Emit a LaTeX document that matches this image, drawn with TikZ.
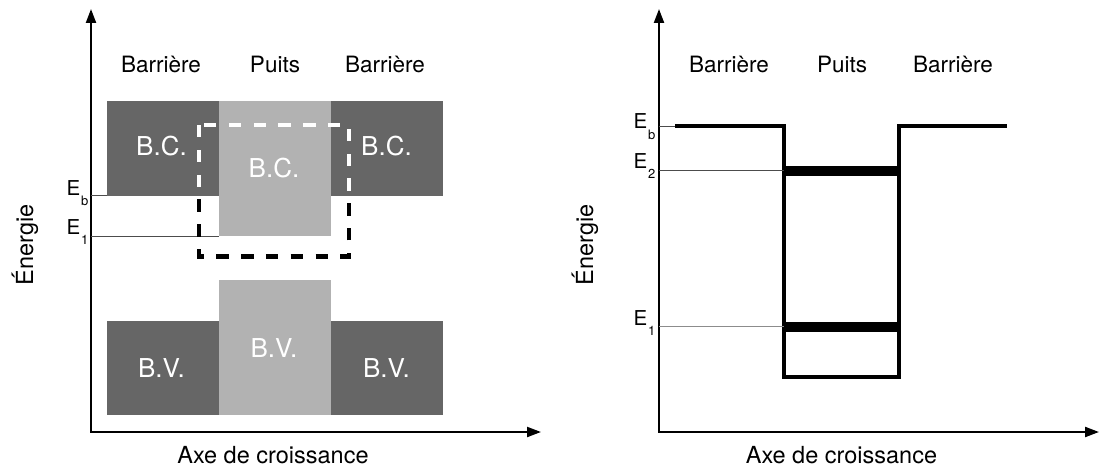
\documentclass[tikz,border=0pt]{standalone}
\usepackage{fontspec}
\setmainfont{TeX Gyre Heros}
\usetikzlibrary{arrows.meta}
\definecolor{dk}{HTML}{666666}
\definecolor{lt}{HTML}{B2B2B2}
\newcommand{\esub}[1]{\kern0.8pt\raisebox{-10pt}{\fontsize{13}{13}\selectfont #1}}
\begin{document}
\begin{tikzpicture}[x=1pt,y=-1pt,
  axis/.style={line width=2.2pt, line join=miter, {Triangle[length=14pt,width=10pt]}-{Triangle[length=14pt,width=10pt]}},
  lbl/.style={inner sep=0, font=\fontsize{22.5}{24}\selectfont, anchor=base},
  axlbl/.style={inner sep=0, font=\fontsize{23.5}{24}\selectfont, anchor=base},
  band/.style={inner sep=0, font=\fontsize{26}{27}\selectfont, text=white, anchor=base},
  elbl/.style={inner sep=0, font=\fontsize{20.5}{21}\selectfont, anchor=base east},
  thinline/.style={line width=0.9pt, draw=black!70},
  dbox/.style={line width=4.5pt, dash pattern=on 12.5pt off 12.3pt},
  profile/.style={line width=4.3pt, line join=miter},
  level/.style={fill=black}]
\useasboundingbox (0,0) rectangle (1100,468);

% ---------------- left panel ----------------
\coordinate (ytop1) at (91,9);
\coordinate (o1) at (91,432);
\coordinate (xend1) at (541,432);
\draw[axis] (ytop1) -- (o1) -- (xend1);

% conduction band
\fill[dk] (107,101) rectangle (219,195.5);
\fill[lt] (219,101) rectangle (331,236);
\fill[dk] (331,101) rectangle (443,195.5);
% valence band
\fill[dk] (107,320.5) rectangle (219,415);
\fill[lt] (219,279.5) rectangle (331,415);
\fill[dk] (331,320.5) rectangle (443,415);

% energy reference lines
\coordinate (eb1a) at (91,195.5); \coordinate (eb1b) at (107,195.5);
\coordinate (e11a) at (91,236); \coordinate (e11b) at (219,236);
\draw[thinline] (eb1a) -- (eb1b);
\draw[thinline] (e11a) -- (e11b);

% band labels
\node[band] (bc1) at (161.5,156) {B.C.};
\node[band] (bc2) at (274,177.3) {B.C.};
\node[band] (bc3) at (386.5,156) {B.C.};
\node[band] (bv1) at (161.5,377.3) {B.V.};
\node[band] (bv2) at (274,357.3) {B.V.};
\node[band] (bv3) at (386.5,377.3) {B.V.};

% dashed box
\draw[dbox] (199,125) rectangle (349,256.5);
\begin{scope}
  \clip (107,101) rectangle (443,195.5) (219,101) rectangle (331,236);
  \draw[dbox, white] (199,125) rectangle (349,256.5);
\end{scope}

% labels
\node[lbl] (b1) at (161,73) {Barrière};
\node[lbl] (p1) at (275,73) {Puits};
\node[lbl] (b2) at (385,73) {Barrière};
\node[axlbl] (ax1) at (273,463) {Axe de croissance};
\node[axlbl, rotate=90] (en1) at (33,245) {Énergie};
\node[elbl] (lEb1) at (88.5,195) {E\esub{b}};
\node[elbl] (lE11) at (88.5,234) {E\esub{1}};

% ---------------- right panel ----------------
\coordinate (ytop2) at (659,9);
\coordinate (o2) at (659,432);
\coordinate (xend2) at (1099,432);
\draw[axis] (ytop2) -- (o2) -- (xend2);

\coordinate (p0) at (675,126);
\coordinate (p1) at (784,126);
\coordinate (p2) at (784,377);
\coordinate (p3) at (899,377);
\coordinate (p4) at (899,126);
\coordinate (p5) at (1007,126);
\draw[profile] (p0) -- (p1) -- (p2) -- (p3) -- (p4) -- (p5);

\fill[level] (784,165.7) rectangle (899,175.7);
\fill[level] (784,321.7) rectangle (899,331.7);

\coordinate (ebr) at (659,126);
\coordinate (e2a) at (659,170.7); \coordinate (e2b) at (784,170.7);
\coordinate (e1a) at (659,326.7); \coordinate (e1b) at (784,326.7);
\draw[thinline] (ebr) -- (p0);
\draw[thinline] (e2a) -- (e2b);
\draw[thinline, draw=black!45] (e1a) -- (e1b);

\node[lbl] (b3) at (729,73) {Barrière};
\node[lbl] (p2l) at (842,73) {Puits};
\node[lbl] (b4) at (953,73) {Barrière};
\node[axlbl] (ax2) at (841.5,463) {Axe de croissance};
\node[axlbl, rotate=90] (en2) at (593,245) {Énergie};
\node[elbl] (rEb) at (655.5,129) {E\esub{b}};
\node[elbl] (rE2) at (655.5,168.5) {E\esub{2}};
\node[elbl] (rE1) at (655.5,325.7) {E\esub{1}};
\end{tikzpicture}
\end{document}
